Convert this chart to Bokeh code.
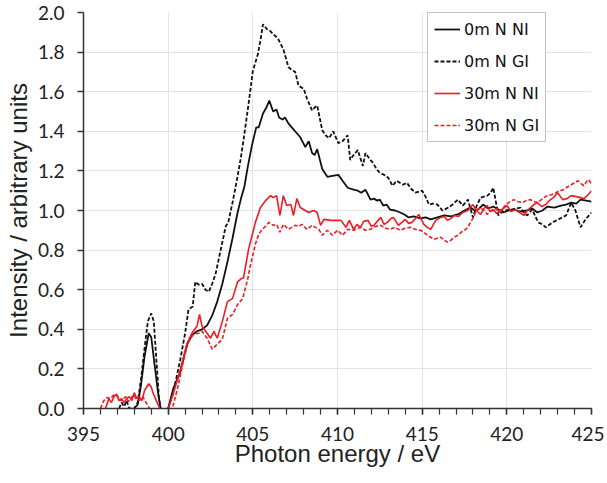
from bokeh.plotting import figure
from bokeh.models import Legend, LegendItem, FixedTicker, Range1d, CustomJSTickFormatter
from bokeh.embed import file_html
from bokeh.resources import INLINE

# ---- data ----
e_0m_ni = [398.0, 398.2, 398.4, 398.6, 398.85, 399.0, 399.2, 399.4, 399.55, 399.8, 400.0, 400.3, 400.7, 401.1, 401.4,
           401.7, 402.0, 402.3, 402.6, 402.9, 403.2, 403.5, 403.8, 404.1, 404.3, 404.5, 404.7, 404.95, 405.2, 405.35,
           405.6, 405.8, 405.97, 406.2, 406.4, 406.55, 406.75, 406.9, 407.1, 407.4, 407.6, 407.8, 408.1, 408.3, 408.5,
           408.65, 408.8, 409.1, 409.4, 409.7, 410.05, 410.3, 410.6, 410.95, 411.2, 411.4, 411.65, 411.95, 412.15,
           412.35, 412.5, 412.7, 412.9, 413.1, 413.4, 413.7, 413.95, 414.2, 414.5, 414.9, 415.2, 415.5, 415.9, 416.3,
           416.7, 417.1, 417.5, 417.85, 418.1, 418.3, 418.6, 418.9, 419.2, 419.5, 419.8, 420.1, 420.4, 420.8, 421.2,
           421.5, 421.8, 422.1, 422.4, 422.8, 423.2, 423.5, 423.8, 424.1, 424.35, 424.7, 425.0]
i_0m_ni = [0.0, 0.02, 0.12, 0.26, 0.38, 0.36, 0.22, 0.08, 0.0, -0.05, 0.0, 0.10, 0.18, 0.32, 0.37,
           0.39, 0.40, 0.42, 0.47, 0.54, 0.63, 0.74, 0.86, 0.99, 1.06, 1.12, 1.22, 1.33, 1.42, 1.42,
           1.49, 1.52, 1.555, 1.50, 1.51, 1.47, 1.46, 1.47, 1.44, 1.41, 1.39, 1.37, 1.32, 1.35, 1.29,
           1.28, 1.31, 1.21, 1.17, 1.175, 1.18, 1.15, 1.115, 1.105, 1.10, 1.09, 1.105, 1.055, 1.06,
           1.05, 1.055, 1.025, 1.03, 1.005, 1.0, 0.99, 0.98, 0.965, 0.97, 0.96, 0.965, 0.955, 0.965, 0.975,
           0.97, 0.98, 1.0, 1.015, 1.0, 1.005, 1.03, 1.01, 1.02, 1.005, 0.99, 1.0, 1.005, 0.995, 1.0,
           1.01, 0.99, 1.0, 1.02, 1.015, 1.025, 1.03, 1.04, 1.035, 1.055, 1.05, 1.045]

e_0m_gi = [397.1, 397.25, 397.4, 397.55, 397.7, 398.0, 398.2, 398.4, 398.6, 398.8, 399.0, 399.15, 399.3, 399.45,
           399.55, 399.8, 400.0, 400.3, 400.7, 401.0, 401.2, 401.45, 401.6, 401.8, 402.0, 402.2, 402.4, 402.6, 402.8,
           402.95, 403.2, 403.4, 403.55, 403.8, 404.05, 404.27, 404.45, 404.75, 405.0, 405.3, 405.45, 405.6, 405.85,
           406.05, 406.2, 406.35, 406.5, 406.8, 407.1, 407.3, 407.5, 407.7, 408.0, 408.2, 408.5, 408.65, 408.8,
           409.1, 409.3, 409.5, 409.75, 410.05, 410.3, 410.6, 410.75, 410.9, 411.05, 411.2, 411.5, 411.65, 411.9,
           412.1, 412.3, 412.5, 412.75, 413.0, 413.25, 413.5, 413.85, 414.1, 414.35, 414.6, 415.0, 415.2, 415.4,
           415.65, 415.9, 416.2, 416.55, 416.8, 417.1, 417.4, 417.7, 418.0, 418.2, 418.45, 418.85, 419.05, 419.2,
           419.5, 419.8, 420.3, 420.8, 421.0, 421.2, 421.5, 421.85, 422.1, 422.3, 422.7, 423.05, 423.5, 423.8,
           424.05, 424.35, 424.65, 425.0]
i_0m_gi = [0.0, 0.03, 0.01, 0.04, 0.0, 0.0, 0.03, 0.15, 0.30, 0.44, 0.48, 0.44, 0.25, 0.06,
           0.0, -0.05, 0.0, 0.08, 0.24, 0.38, 0.50, 0.515, 0.64, 0.625, 0.63, 0.60, 0.59, 0.63, 0.68,
           0.74, 0.84, 0.92, 0.94, 1.04, 1.15, 1.255, 1.355, 1.54, 1.705, 1.79, 1.86, 1.94, 1.915,
           1.905, 1.89, 1.88, 1.865, 1.815, 1.725, 1.71, 1.70, 1.63, 1.615, 1.565, 1.505, 1.52, 1.53,
           1.405, 1.38, 1.365, 1.40, 1.34, 1.35, 1.38, 1.255, 1.275, 1.29, 1.305, 1.225, 1.29, 1.26,
           1.24, 1.21, 1.19, 1.18, 1.165, 1.125, 1.15, 1.13, 1.14, 1.11, 1.09, 1.10, 1.07, 1.03,
           1.035, 1.03, 1.0, 1.015, 1.03, 1.055, 1.025, 1.055, 0.965, 1.02, 1.065, 1.075, 1.09, 1.115,
           0.975, 1.0, 1.005, 1.015, 0.99, 0.975, 1.005, 0.94, 0.93, 0.915, 0.94, 0.955, 0.975, 1.04,
           1.0, 0.915, 0.955, 0.99]

e_30m_ni = [396.3, 396.5, 396.65, 396.8, 396.95, 397.1, 397.25, 397.4, 397.55, 397.7, 397.85, 398.0, 398.15, 398.3,
            398.45, 398.6, 398.85, 399.0, 399.1, 399.3, 399.5, 399.8, 400.0, 400.3, 400.7, 401.1, 401.4, 401.7,
            401.85, 402.0, 402.3, 402.5, 402.7, 402.9, 403.2, 403.5, 403.8, 404.1, 404.3, 404.45, 404.75, 405.15,
            405.45, 405.75, 406.05, 406.2, 406.4, 406.6, 406.8, 407.0, 407.25, 407.4, 407.6, 407.8, 408.0, 408.3,
            408.6, 408.8, 409.0, 409.2, 409.6, 410.2, 410.5, 410.7, 410.95, 411.15, 411.35, 411.55, 411.8, 412.0,
            412.15, 412.35, 412.55, 412.75, 412.95, 413.15, 413.3, 413.6, 414.0, 414.2, 414.4, 414.6, 414.8, 415.1,
            415.3, 415.5, 415.8, 416.1, 416.3, 416.5, 416.7, 416.9, 417.15, 417.4, 417.7, 418.0, 418.2, 418.45,
            418.65, 418.85, 419.0, 419.2, 419.4, 419.6, 419.8, 420.0, 420.25, 420.5, 420.75, 421.0, 421.2, 421.4,
            421.6, 421.8, 422.05, 422.3, 422.5, 422.75, 423.0, 423.3, 423.55, 423.8, 424.1, 424.35, 424.55, 424.75,
            425.0]
i_30m_ni = [0.0, 0.05, 0.03, 0.06, 0.07, 0.04, 0.05, 0.03, 0.05, 0.06, 0.04, 0.08, 0.05, 0.06,
            0.04, 0.09, 0.125, 0.11, 0.08, 0.04, 0.0, -0.05, 0.0, 0.075, 0.19, 0.325, 0.38, 0.415,
            0.475, 0.415, 0.38, 0.355, 0.39, 0.355, 0.44, 0.54, 0.555, 0.64, 0.655, 0.66, 0.805, 0.94,
            1.015, 1.05, 1.075, 1.065, 1.075, 0.975, 1.075, 1.025, 1.03, 0.975, 1.06, 1.015, 1.005, 0.99,
            1.0, 0.99, 0.925, 0.955, 0.95, 0.95, 0.915, 0.95, 0.905, 0.93, 0.915, 0.945, 0.95, 0.92,
            0.925, 0.945, 0.965, 0.93, 0.94, 0.96, 0.965, 0.925, 0.955, 0.935, 0.94, 0.96, 0.98, 0.93,
            0.915, 0.905, 0.95, 0.965, 0.97, 0.95, 0.96, 0.975, 0.97, 0.99, 1.0, 1.03, 1.0, 0.98,
            1.01, 1.025, 0.995, 1.005, 0.985, 1.0, 1.01, 1.025, 0.995, 1.005, 0.99, 0.975, 1.0, 1.015,
            1.03, 1.04, 1.02, 1.03, 1.05, 1.065, 1.09, 1.055, 1.06, 1.075, 1.07, 1.065, 1.06, 1.075,
            1.10]

e_30m_gi = [396.0, 396.2, 396.4, 396.6, 396.75, 396.9, 397.05, 397.2, 397.35, 397.5, 397.65, 397.8, 397.95, 398.1,
            398.3, 398.5, 398.7, 398.9, 399.2, 400.25, 400.55, 400.9, 401.2, 401.5, 401.8, 402.0, 402.3, 402.6,
            402.9, 403.2, 403.5, 403.8, 404.1, 404.4, 404.7, 404.85, 405.15, 405.35, 405.55, 405.75, 405.95, 406.2,
            406.4, 406.6, 406.8, 407.1, 407.3, 407.5, 407.7, 407.9, 408.2, 408.5, 408.7, 408.9, 409.1, 409.4,
            409.7, 410.0, 410.3, 410.6, 410.95, 411.35, 411.65, 411.95, 412.25, 412.55, 412.85, 413.1, 413.4, 413.7,
            414.0, 414.3, 414.6, 414.9, 415.1, 415.3, 415.5, 415.7, 415.9, 416.1, 416.3, 416.5, 416.7, 416.9,
            417.1, 417.3, 417.5, 417.7, 417.85, 418.0, 418.2, 418.45, 418.65, 418.85, 419.0, 419.2, 419.4, 419.6,
            419.85, 420.1, 420.4, 420.65, 420.9, 421.15, 421.4, 421.6, 421.85, 422.1, 422.4, 422.65, 422.9, 423.1,
            423.35, 423.6, 423.8, 424.0, 424.2, 424.4, 424.55, 424.75, 424.85, 425.0]
i_30m_gi = [0.0, 0.04, 0.055, 0.05, 0.065, 0.075, 0.06, 0.04, 0.05, 0.06, 0.035, 0.05, 0.07, 0.05,
            0.04, 0.06, 0.03, 0.0, -0.05, 0.0, 0.10, 0.24, 0.34, 0.375, 0.38, 0.39, 0.355, 0.30,
            0.325, 0.35, 0.455, 0.475, 0.525, 0.555, 0.655, 0.72, 0.83, 0.88, 0.905, 0.92, 0.94, 0.925,
            0.93, 0.89, 0.93, 0.905, 0.915, 0.925, 0.92, 0.93, 0.905, 0.925, 0.915, 0.905, 0.875, 0.90,
            0.875, 0.90, 0.875, 0.905, 0.90, 0.915, 0.90, 0.905, 0.92, 0.925, 0.91, 0.905, 0.915, 0.90,
            0.91, 0.915, 0.905, 0.90, 0.89, 0.875, 0.865, 0.855, 0.86, 0.865, 0.85, 0.84, 0.85, 0.865,
            0.875, 0.89, 0.90, 0.915, 0.94, 0.96, 1.0, 1.015, 1.0, 0.98, 0.995, 1.0, 1.01, 0.99,
            1.02, 1.04, 1.055, 1.045, 1.04, 1.05, 1.055, 1.045, 1.04, 1.06, 1.075, 1.08, 1.09, 1.10,
            1.105, 1.12, 1.13, 1.14, 1.15, 1.135, 1.125, 1.15, 1.155, 1.13]

series_labels = ["0m N NI", "0m N GI", "30m N NI", "30m N GI"]
x_ticks = [395, 400, 405, 410, 415, 420, 425]
y_ticks = [0.0, 0.2, 0.4, 0.6, 0.8, 1.0, 1.2, 1.4, 1.6, 1.8, 2.0]

BLACK = "#111111"
RED = "#ee1c24"

p = figure(width=604, height=480, output_backend="svg", toolbar_location=None,
           x_range=Range1d(395, 425), y_range=Range1d(0, 2.0),
           min_border_left=83, min_border_right=13, min_border_top=12, min_border_bottom=72)
p.outline_line_color = None
p.background_fill_color = "white"

r1 = p.line(e_0m_ni, i_0m_ni, line_color=BLACK, line_width=1.8)
r2 = p.line(e_0m_gi, i_0m_gi, line_color=BLACK, line_width=1.8, line_dash="4 2")
r3 = p.line(e_30m_ni, i_30m_ni, line_color=RED, line_width=1.6)
r4 = p.line(e_30m_gi, i_30m_gi, line_color=RED, line_width=1.6, line_dash="4 2")

# axes
p.xaxis.ticker = FixedTicker(ticks=x_ticks, minor_ticks=list(range(395, 426)))
p.yaxis.ticker = FixedTicker(ticks=y_ticks)
p.yaxis.formatter = CustomJSTickFormatter(code="return tick.toFixed(1);")

for ax in (p.xaxis, p.yaxis):
    ax.axis_line_color = "#333333"
    ax.axis_line_width = 1.5
    ax.major_tick_line_color = "#333333"
    ax.major_tick_line_width = 1.5
    ax.minor_tick_line_color = "#333333"
    ax.minor_tick_line_width = 1.2
    ax.major_tick_in = 0
    ax.major_tick_out = 6
    ax.minor_tick_in = 0
    ax.major_label_text_font = "Lato"
    ax.major_label_text_font_size = "19px"
    ax.major_label_text_color = "#222222"
    ax.axis_label_text_font = "Liberation Sans"
    ax.axis_label_text_font_size = "24px"
    ax.axis_label_text_font_style = "normal"
    ax.axis_label_text_color = "#222222"

p.xaxis.minor_tick_out = 6
p.yaxis.minor_tick_out = 0
p.xaxis.major_label_standoff = 12
p.yaxis.major_label_standoff = 13
p.xaxis.axis_label = "Photon energy / eV"
p.yaxis.axis_label = "Intensity / arbitrary units"
p.xaxis.axis_label_standoff = -4
p.yaxis.axis_label_standoff = 3

p.xgrid.ticker = FixedTicker(ticks=x_ticks)
p.ygrid.ticker = FixedTicker(ticks=y_ticks)
p.xgrid.grid_line_color = "#e3e3e3"
p.ygrid.grid_line_color = "#e3e3e3"
p.xgrid.grid_line_width = 1
p.ygrid.grid_line_width = 1

legend = Legend(items=[LegendItem(label=series_labels[0], renderers=[r1]),
                       LegendItem(label=series_labels[1], renderers=[r2]),
                       LegendItem(label=series_labels[2], renderers=[r3]),
                       LegendItem(label=series_labels[3], renderers=[r4])],
                location=(344, 266))
legend.label_text_font = "DejaVu Sans"
legend.label_text_font_size = "16px"
legend.label_text_color = "#111111"
legend.glyph_width = 26
legend.glyph_height = 20
legend.label_height = 20
legend.spacing = 12
legend.padding = 6
legend.label_standoff = 4
legend.border_line_color = "#888888"
legend.border_line_width = 1.2
legend.background_fill_color = "white"
legend.background_fill_alpha = 1.0
legend.margin = 0
p.add_layout(legend, "center")

open("out.html", "w").write(file_html(p, INLINE))
